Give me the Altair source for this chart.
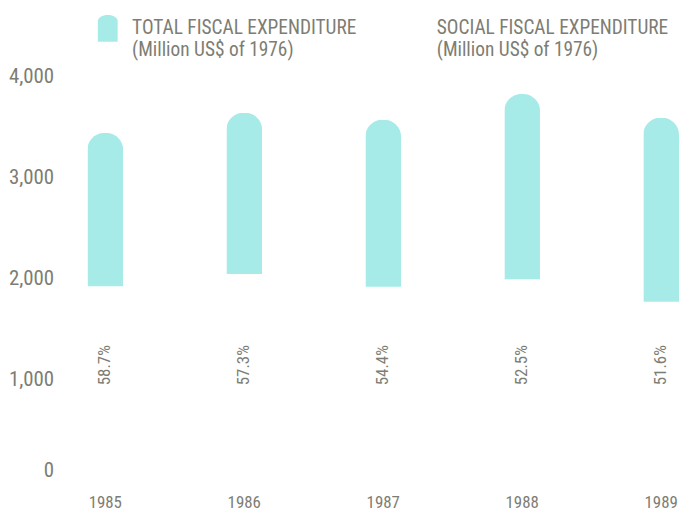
import altair as alt
import pandas as pd

years = ["1985", "1986", "1987", "1988", "1989"]
total = [3440, 3640, 3570, 3825, 3590]
social = [1915, 2035, 1910, 1985, 1760]
pct_labels = ["58.7%", "57.3%", "54.4%", "52.5%", "51.6%"]
series = ["TOTAL FISCAL EXPENDITURE", "SOCIAL FISCAL EXPENDITURE"]
unit = "(Million US$ of 1976)"
y_ticks = [0, 1000, 2000, 3000, 4000]
colors = ["#a7ebe9", "#ffffff"]

FONT = "Liberation Sans Narrow, Roboto Condensed, DejaVu Sans Condensed, Arial Narrow, sans-serif"
GREY = "#7d7d73"

rows = []
for i, yr in enumerate(years):
    rows.append({"year": yr, "series": series[0], "value": total[i], "pct": pct_labels[i]})
    rows.append({"year": yr, "series": series[1], "value": social[i], "pct": pct_labels[i]})
df = pd.DataFrame(rows)

x_enc = alt.X(
    "year:N",
    title=None,
    scale=alt.Scale(paddingInner=0.743, paddingOuter=0),
    axis=alt.Axis(labelAngle=0, ticks=False, domain=False, grid=False, labelPadding=14,
                  labelFont=FONT, labelFontSize=17, labelColor=GREY),
)
y_scale = alt.Scale(domain=[0, 4000], nice=False)
y_axis = alt.Axis(values=y_ticks, format=",d", ticks=False, domain=False, grid=False,
                  labelPadding=34, minExtent=79, maxExtent=79,
                  labelFont=FONT, labelFontSize=21, labelColor=GREY,
                  labelOffset=alt.condition("datum.value == 0", alt.value(-10), alt.value(0)))

color_enc = alt.Color(
    "series:N",
    scale=alt.Scale(domain=series, range=colors),
    legend=alt.Legend(
        title=None,
        orient="none",
        legendX=7,
        legendY=-62,
        direction="horizontal",
        symbolType="M-0.74,1 L-0.74,-0.55 A0.74,0.45 0 0 1 0.74,-0.55 L0.74,1 Z",
        symbolSize=729,
        symbolStrokeWidth=0,
        symbolOpacity=1,
        labelExpr="[datum.label, '" + unit + "']",
        labelFont=FONT,
        labelFontSize=19.5,
        labelColor=GREY,
        labelOffset=11,
        labelLimit=400,
        columnPadding=42,
        labelBaseline="middle",
    ),
)

base = alt.Chart(df)

total_bars = base.transform_filter(alt.datum.series == series[0]).mark_bar(
    cornerRadiusTopLeft=17, cornerRadiusTopRight=17
).encode(x=x_enc, y=alt.Y("value:Q", title=None, scale=y_scale, axis=y_axis), color=color_enc)

social_bars = base.transform_filter(alt.datum.series == series[1]).mark_bar(
    stroke="white", strokeWidth=1.5
).encode(
    x=x_enc, y=alt.Y("value:Q", scale=y_scale), color=color_enc
)

pct_text = base.transform_filter(alt.datum.series == series[0]).mark_text(
    angle=270, font=FONT, fontSize=17, color=GREY
).encode(x=x_enc, y=alt.datum(1140), text="pct:N")

chart = alt.layer(total_bars, social_bars, pct_text).properties(
    width=596, height=407, background="white",
    padding={"left": 0, "top": 5, "right": 0, "bottom": 0}
).configure_view(strokeWidth=0, stroke="transparent").configure_axis(
    grid=False, domain=False, ticks=False
)

chart.save("out.html", embed_options={"renderer": "svg", "actions": False})
